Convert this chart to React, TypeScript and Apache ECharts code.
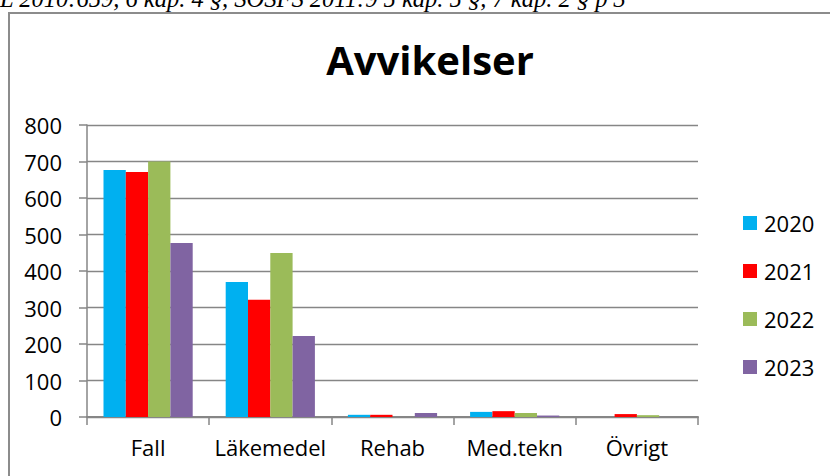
import React, { useEffect, useRef } from "react";
import * as echarts from "echarts";

const categories = ["Fall", "Läkemedel", "Rehab", "Med.tekn", "Övrigt"];
const years = ["2020", "2021", "2022", "2023"];
const values2020 = [677, 370, 6, 14, 0];
const values2021 = [671, 321, 6, 16, 8];
const values2022 = [700, 449, 0, 11, 5];
const values2023 = [477, 222, 11, 4, 0];
const colors = ["#00B0F0", "#FF0000", "#9BBB59", "#8064A2"];
const yTicks = { min: 0, max: 800, interval: 100 };
const titleText = "Avvikelser";
const topNote = "L 2010:659, 6 kap. 4 §, SOSFS 2011:9 5 kap. 5 §, 7 kap. 2 § p 3";

export default function App() {
  const ref = useRef<HTMLDivElement>(null);
  useEffect(() => {
    if (!ref.current) return;
    const chart = echarts.init(ref.current, null, { renderer: "svg" });
    const seriesData = [values2020, values2021, values2022, values2023];
    const font = "'Open Sans', sans-serif";
    chart.setOption({
      animation: false,
      backgroundColor: "#ffffff",
      title: {
        text: titleText,
        left: 425,
        textAlign: "center",
        top: 34,
        textStyle: { fontFamily: font, fontWeight: "bold", fontSize: 40, color: "#000" },
      },
      legend: {
        orient: "vertical",
        left: 738,
        top: 207,
        itemWidth: 14,
        itemHeight: 14,
        itemGap: 26,
        icon: "rect",
        data: years,
        textStyle: { fontFamily: font, fontSize: 22, color: "#000", lineHeight: 22, padding: [0, 0, 0, 2] },
      },
      grid: { left: 87, right: 132, top: 125, bottom: 59, containLabel: false },
      xAxis: {
        type: "category",
        data: categories,
        axisLine: { lineStyle: { color: "#868686", width: 2 } },
        axisTick: { show: true, length: 8, lineStyle: { color: "#868686", width: 1.5 } },
        axisLabel: { fontFamily: font, fontSize: 22, color: "#000", margin: 19, interval: 0 },
      },
      yAxis: {
        type: "value",
        min: yTicks.min,
        max: yTicks.max,
        interval: yTicks.interval,
        axisLine: { show: true, lineStyle: { color: "#868686", width: 1.5 } },
        axisTick: { show: true, length: 8, lineStyle: { color: "#868686", width: 1.5 } },
        splitLine: { show: true, lineStyle: { color: "#868686", width: 1.3 } },
        axisLabel: { fontFamily: font, fontSize: 22, color: "#000", margin: 25 },
      },
      series: years.map((y, i) => ({
        name: y,
        type: "bar",
        data: seriesData[i],
        itemStyle: { color: colors[i] },
        barGap: "0%",
        barCategoryGap: "27%",
      })),
      graphic: [
        {
          type: "rect",
          shape: { x: 9, y: 13, width: 900, height: 600 },
          style: { fill: "none", stroke: "#8c8c8c", lineWidth: 2 },
          silent: true,
        },
        {
          type: "text",
          x: 0,
          y: -2,
          style: {
            text: topNote,
            fontFamily: "'Liberation Serif', serif",
            fontStyle: "italic",
            fontSize: 24.5,
            fill: "#000",
            textVerticalAlign: "middle",
          },
        },
      ],
    });
    return () => chart.dispose();
  }, []);
  return (
    <div
      ref={ref}
      style={{ position: "fixed", left: 0, top: 0, width: 830, height: 476 }}
    />
  );
}
